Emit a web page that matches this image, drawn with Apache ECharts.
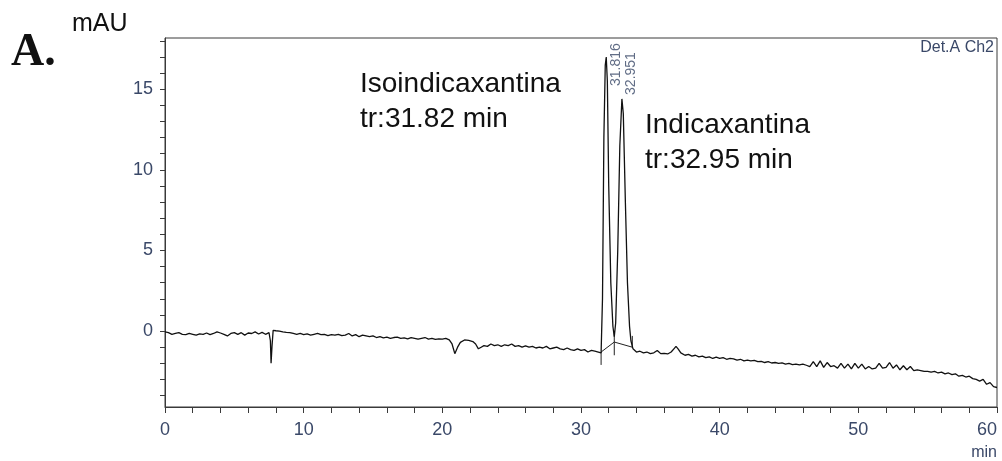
<!DOCTYPE html>
<html>
<head>
<meta charset="utf-8">
<script src="https://cdn.jsdelivr.net/npm/echarts@6/dist/echarts.min.js"></script>
<style>html,body{margin:0;padding:0;background:#fff;}#c{width:1002px;height:461px;}</style>
</head>
<body>
<div id="c"></div>
<script>
// chromatogram trace: [retention time (min), absorbance (mAU)]
const trace = [
[0,-0.05],[0.25,-0.1],[0.5,-0.2],[0.75,-0.15],[1,-0.1],[1.25,-0.2],[1.5,-0.22],[1.75,-0.15],[2,-0.2],[2.25,-0.25],
[2.5,-0.18],[2.75,-0.2],[3,-0.12],[3.25,-0.22],[3.5,-0.15],[3.75,-0.05],[4,-0.12],[4.25,-0.2],[4.5,-0.3],[4.75,-0.15],
[5,-0.1],[5.25,-0.2],[5.5,-0.1],[5.75,-0.25],[6,-0.12],[6.25,-0.15],[6.5,-0.05],[6.75,-0.18],[7,-0.08],[7.25,-0.2],
[7.5,-0.1],[7.6,-0.6],[7.65,-2.0],[7.72,-0.9],[7.8,0.05],[8,0.02],[8.25,0.0],[8.5,-0.05],[8.75,-0.08],
[9,-0.1],[9.25,-0.15],[9.5,-0.2],[9.75,-0.15],[10,-0.22],[10.25,-0.18],[10.5,-0.25],[10.75,-0.2],[11,-0.15],[11.25,-0.22],
[11.5,-0.2],[11.75,-0.28],[12,-0.22],[12.25,-0.25],[12.5,-0.2],[12.75,-0.28],[13,-0.25],[13.25,-0.15],[13.5,-0.3],[13.75,-0.22],
[14,-0.35],[14.25,-0.25],[14.5,-0.3],[14.75,-0.35],[15,-0.3],[15.25,-0.4],[15.5,-0.35],[15.75,-0.42],[16,-0.38],[16.25,-0.45],
[16.5,-0.4],[16.75,-0.38],[17,-0.45],[17.25,-0.42],[17.5,-0.48],[17.75,-0.4],[18,-0.45],[18.25,-0.5],[18.5,-0.45],[18.75,-0.4],
[19,-0.5],[19.25,-0.45],[19.5,-0.52],[19.75,-0.48],[20,-0.5],[20.25,-0.45],[20.5,-0.55],[20.7,-0.8],[20.9,-1.4],[21.1,-1.0],
[21.3,-0.7],[21.6,-0.55],[21.9,-0.58],[22.2,-0.65],[22.4,-0.8],[22.6,-1.1],[22.8,-1.0],[23,-0.9],[23.25,-0.95],[23.5,-0.8],
[23.75,-0.9],[24,-0.85],[24.25,-0.95],[24.5,-0.85],[24.75,-0.9],[25,-0.8],[25.25,-0.95],[25.5,-0.9],[25.75,-1.0],[26,-0.92],
[26.25,-1.0],[26.5,-0.95],[26.75,-1.05],[27,-1.0],[27.25,-1.05],[27.5,-0.95],[27.75,-1.1],[28,-1.05],[28.25,-1.0],[28.5,-1.1],
[28.75,-1.15],[29,-1.05],[29.25,-1.15],[29.5,-1.2],[29.75,-1.1],[30,-1.2],[30.25,-1.15],[30.5,-1.3],[30.75,-1.2],[31,-1.25],
[31.25,-1.3],[31.45,-1.35],
[31.55,2.0],[31.65,12.0],[31.75,16.5],[31.82,17.0],[31.9,15.5],[32,9.0],[32.15,3.0],[32.3,0.3],[32.4,-0.35],
[32.5,0.5],[32.65,5.0],[32.8,11.5],[32.95,14.4],[33.05,13.5],[33.2,8.0],[33.35,3.0],[33.5,0.3],[33.6,-0.6],[33.75,-1.1],
[34,-1.3],[34.25,-1.25],[34.5,-1.35],[34.75,-1.3],[35,-1.4],[35.25,-1.35],[35.5,-1.2],[35.75,-1.4],[36,-1.38],[36.25,-1.42],
[36.5,-1.3],[36.7,-1.1],[36.85,-0.95],[37,-1.1],[37.2,-1.35],[37.5,-1.5],[37.75,-1.45],[38,-1.55],[38.25,-1.5],[38.5,-1.6],
[38.75,-1.55],[39,-1.65],[39.25,-1.6],[39.5,-1.7],[39.75,-1.62],[40,-1.7],[40.25,-1.65],[40.5,-1.75],[40.75,-1.7],[41,-1.72],
[41.25,-1.8],[41.5,-1.75],[41.75,-1.85],[42,-1.8],[42.25,-1.85],[42.5,-1.82],[42.75,-1.9],[43,-1.88],[43.25,-1.95],[43.5,-1.9],
[43.75,-1.98],[44,-1.95],[44.25,-2.0],[44.5,-1.97],[44.75,-2.05],[45,-2.0],[45.25,-2.08],[45.5,-2.05],[45.75,-2.1],[46,-2.05],
[46.25,-2.12],[46.5,-2.2],[46.75,-1.9],[47,-2.2],[47.25,-1.85],[47.5,-2.25],[47.75,-1.95],[48,-2.2],[48.25,-2.15],[48.5,-2.3],
[48.75,-2.0],[49,-2.3],[49.25,-2.05],[49.5,-2.35],[49.75,-2.0],[50,-2.3],[50.25,-2.05],[50.5,-2.35],[50.75,-2.2],[51,-2.35],
[51.25,-2.3],[51.5,-2.0],[51.75,-2.3],[52,-2.25],[52.25,-1.95],[52.5,-2.3],[52.75,-2.1],[53,-2.4],[53.25,-2.15],[53.5,-2.4],
[53.75,-2.2],[54,-2.45],[54.25,-2.4],[54.5,-2.45],[54.75,-2.5],[55,-2.5],[55.25,-2.55],[55.5,-2.5],[55.75,-2.6],[56,-2.55],
[56.25,-2.65],[56.5,-2.6],[56.75,-2.7],[57,-2.65],[57.25,-2.8],[57.5,-2.75],[57.75,-2.85],[58,-2.8],[58.25,-2.95],[58.5,-3.0],
[58.75,-3.1],[59,-3.0],[59.25,-3.3],[59.5,-3.2],[59.75,-3.45],[60,-3.5]
];

// integration baseline drawn under the two peaks
const integrationBaseline = [[31.45,-1.3],[32.4,-0.68],[33.7,-1.0]];
// integration marks: time, upper value, lower value
const markTimes = [31.45, 32.4, 33.7];
const markTops = [-1.3, 0.0, -0.3];
const markBottoms = [-2.1, -1.5, -1.0];

// peak labels
const peakTimes = [31.816, 32.951];
const peakHeights = [17.0, 14.4];
const peakLabels = ['31.816', '32.951'];

// axes
const xTicksMajor = [0, 10, 20, 30, 40, 50, 60];
const yTickLabels = [0, 5, 10, 15];
const yMinorTicks = [-4,-3,-2,-1,0,1,2,3,4,5,6,7,8,9,10,11,12,13,14,15,16,17,18];

// annotations
const compoundNames = ['Isoindicaxantina', 'Indicaxantina'];
const compoundTr = ['tr:31.82 min', 'tr:32.95 min'];

const FONT = '"Liberation Sans", Arial, sans-serif';
const tickColor = '#3a4868';
const axisColor = '#3a3a3a';

const chart = echarts.init(document.getElementById('c'), null, {renderer: 'canvas'});

const series = [{
  type: 'line',
  data: trace,
  symbol: 'none',
  lineStyle: {color: '#111', width: 1.3},
  z: 3
}, {
  type: 'line',
  data: integrationBaseline,
  symbol: 'none',
  lineStyle: {color: '#222', width: 1},
  z: 2
}];
markTimes.forEach((t, i) => {
  series.push({
    type: 'line',
    data: [[t, markTops[i]], [t, markBottoms[i]]],
    symbol: 'none',
    lineStyle: {color: '#222', width: 1},
    z: 2
  });
});
const labelOffsets = [[10, 29], [9.5, -4]];
series.push({
  type: 'scatter',
  symbolSize: 0,
  data: peakTimes.map((t, i) => ({
    value: [t, peakHeights[i]],
    label: {
      show: true,
      formatter: peakLabels[i],
      rotate: 90,
      position: labelOffsets[i],
      align: 'left',
      verticalAlign: 'middle',
      fontFamily: FONT,
      fontSize: 14,
      color: tickColor
    }
  })),
  z: 4
});

const option = {
  animation: false,
  backgroundColor: '#fff',
  grid: {left: 165, right: 5, top: 38, bottom: 54, show: true, borderColor: axisColor, borderWidth: 1,
         containLabel: false, outerBoundsMode: 'none'},
  xAxis: {
    type: 'value', min: 0, max: 60, interval: 2,
    axisLine: {show: true, onZero: false, lineStyle: {color: axisColor, width: 1}},
    axisTick: {show: true, inside: false, length: 6, lineStyle: {color: axisColor}},
    axisLabel: {
      show: true, margin: 14, fontFamily: FONT, fontSize: 18, color: tickColor,
      alignMaxLabel: 'right',
      formatter: v => (xTicksMajor.indexOf(v) >= 0 ? String(v) : '')
    },
    splitLine: {show: false}
  },
  yAxis: {
    type: 'value', min: -4.71, max: 18.18,
    axisLine: {show: true, onZero: false, lineStyle: {color: axisColor, width: 1}},
    axisTick: {show: true, inside: false, length: 5, customValues: yMinorTicks, lineStyle: {color: axisColor}},
    axisLabel: {show: true, margin: 12, fontFamily: FONT, fontSize: 18, color: tickColor, customValues: yTickLabels},
    splitLine: {show: false}
  },
  series: series,
  graphic: [
    {type: 'text', left: 11, top: 30, style: {text: 'A.', font: 'bold 46px "Liberation Serif", "Times New Roman", serif', fill: '#111'}},
    {type: 'text', x: 72, y: 24, style: {text: 'mAU', font: '25px ' + FONT, fill: '#111', verticalAlign: 'middle'}},
    {type: 'text', x: 994, y: 48, style: {text: 'Det.A Ch2', font: '16px ' + FONT, fill: tickColor, align: 'right', verticalAlign: 'middle'}},
    {type: 'text', x: 997, y: 453, style: {text: 'min', font: '16px ' + FONT, fill: tickColor, align: 'right', verticalAlign: 'middle'}},
    {type: 'text', x: 360, y: 84, style: {text: compoundNames[0], font: '28px ' + FONT, fill: '#111', verticalAlign: 'middle'}},
    {type: 'text', x: 360, y: 119, style: {text: compoundTr[0], font: '28px ' + FONT, fill: '#111', verticalAlign: 'middle'}},
    {type: 'text', x: 645, y: 125, style: {text: compoundNames[1], font: '28px ' + FONT, fill: '#111', verticalAlign: 'middle'}},
    {type: 'text', x: 645, y: 160, style: {text: compoundTr[1], font: '28px ' + FONT, fill: '#111', verticalAlign: 'middle'}}
  ]
};
chart.setOption(option);
</script>
</body>
</html>
